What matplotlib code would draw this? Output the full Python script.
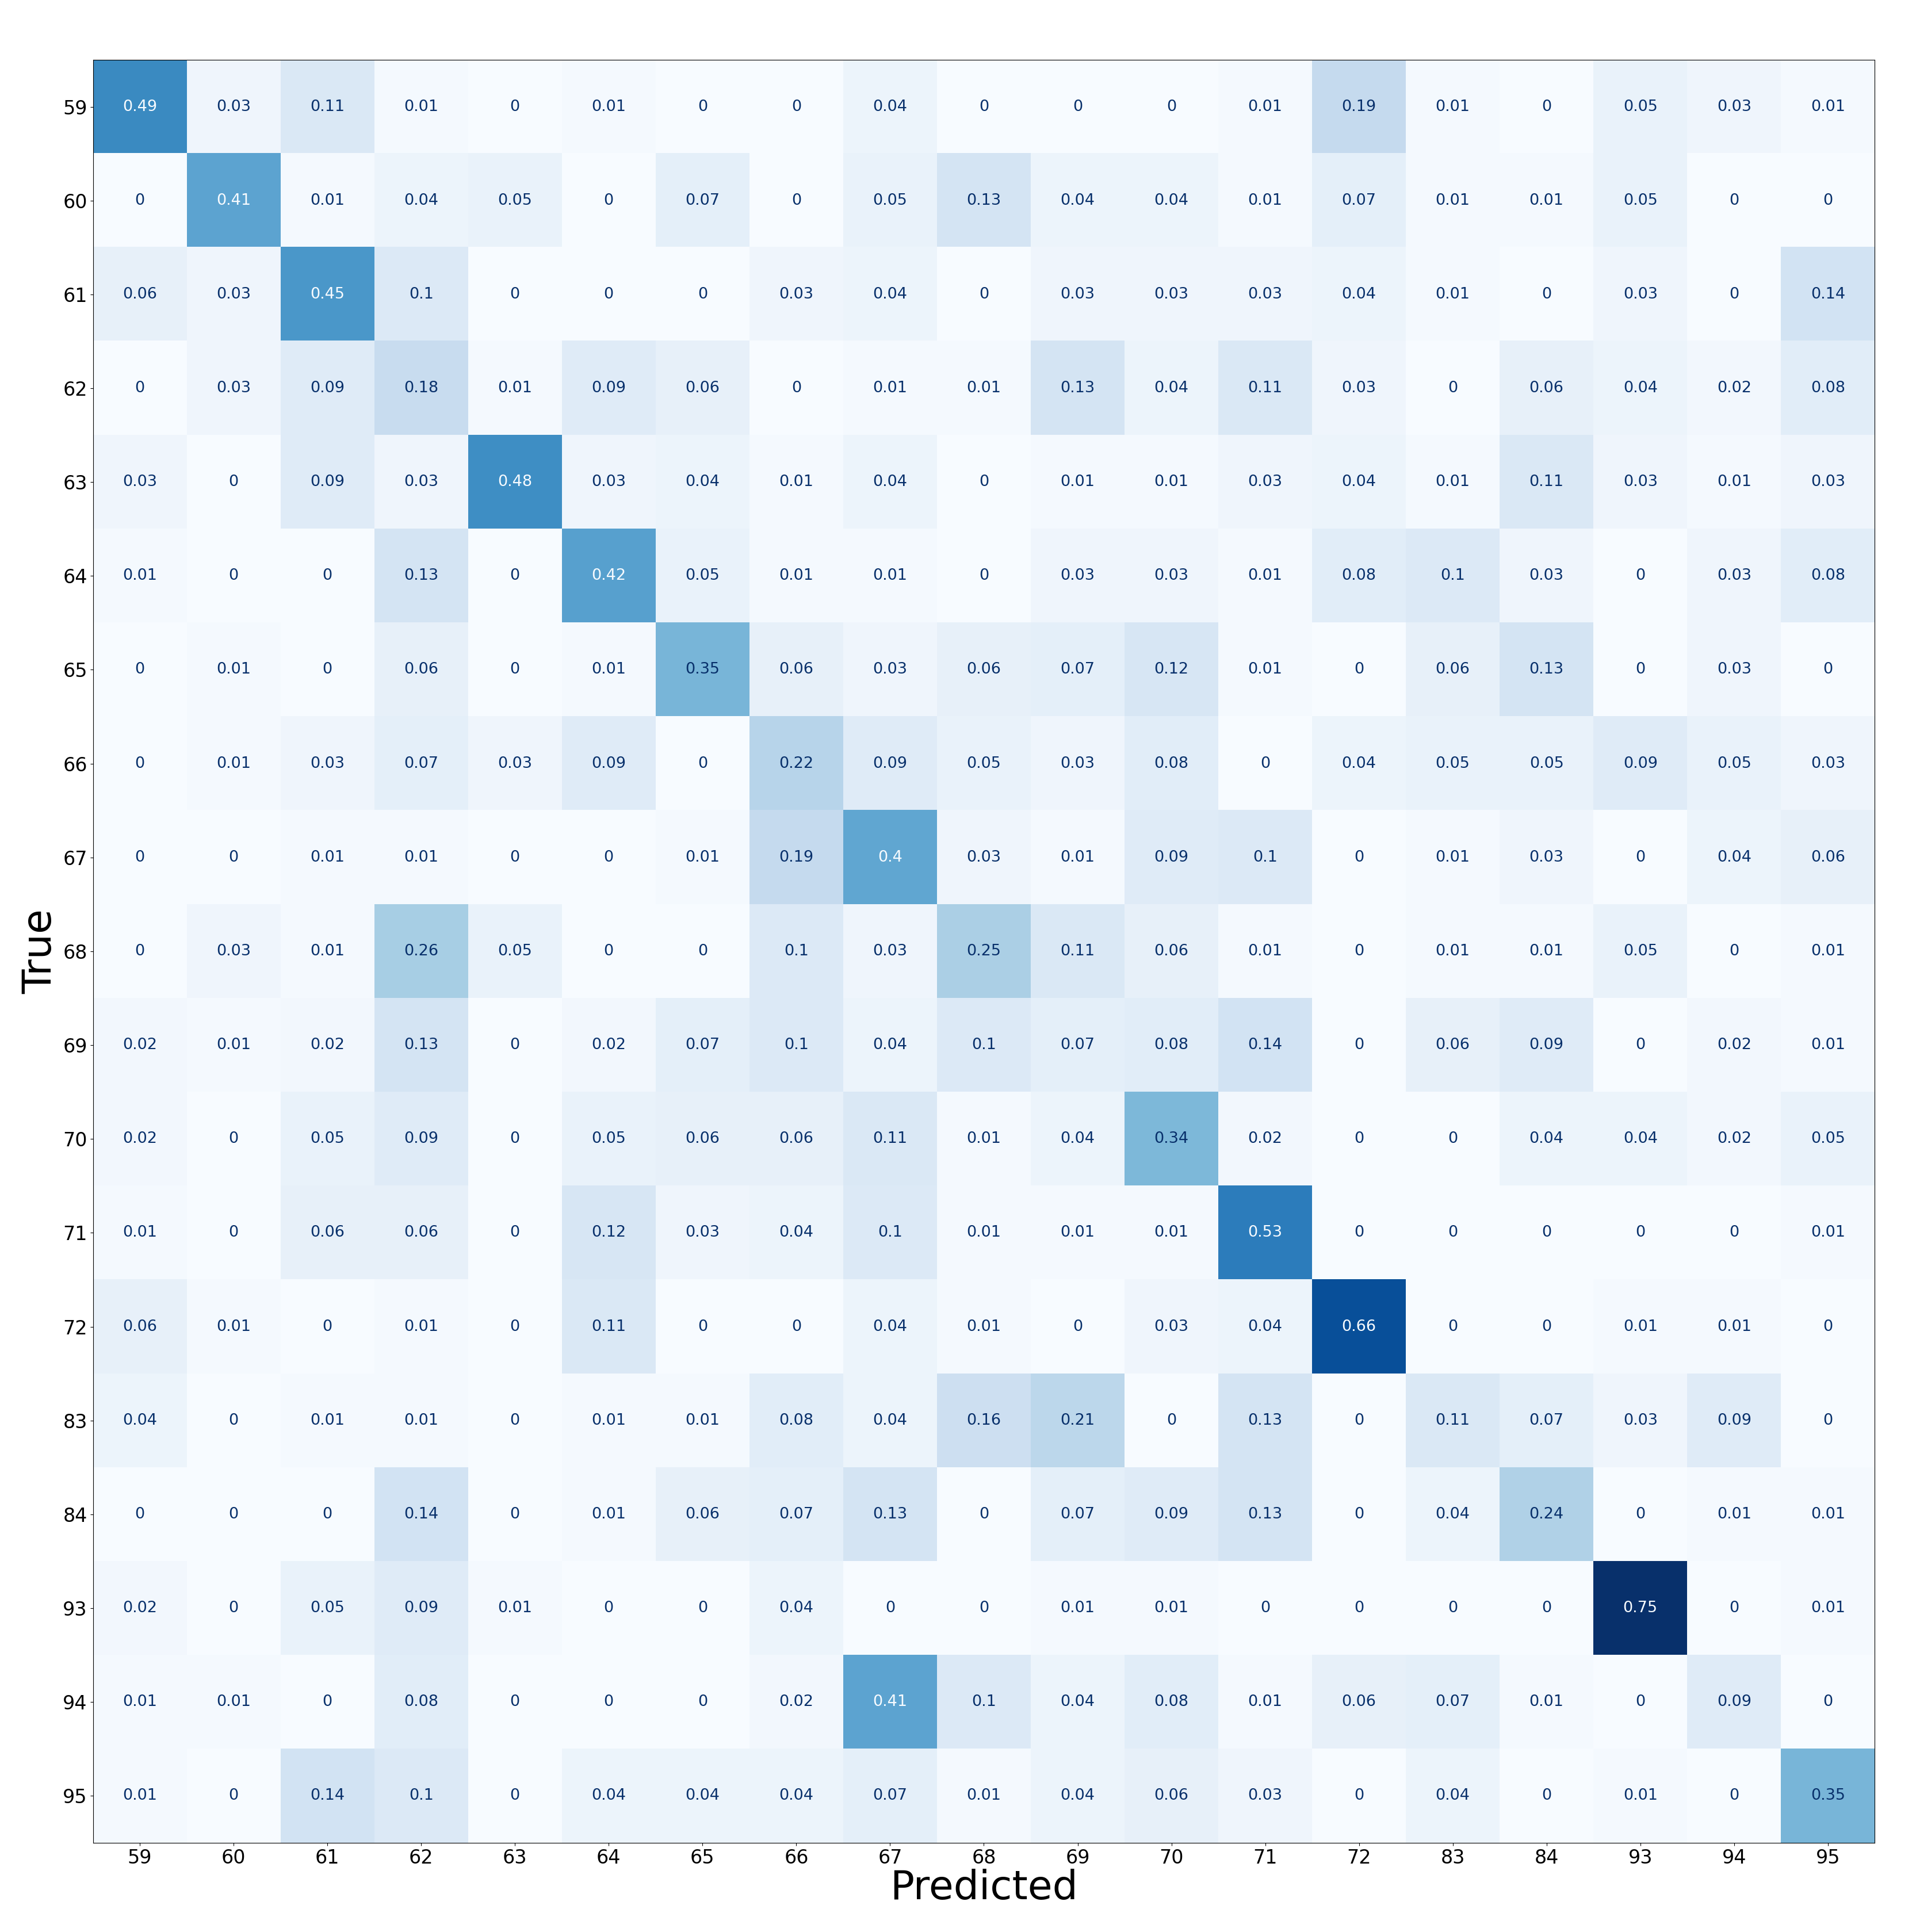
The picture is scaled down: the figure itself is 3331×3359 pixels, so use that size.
import numpy as np
import matplotlib
matplotlib.use("Agg")
import matplotlib.pyplot as plt

# clases (mismas para filas y columnas)
etiquetas = ['59', '60', '61', '62', '63', '64', '65', '66', '67', '68',
             '69', '70', '71', '72', '83', '84', '93', '94', '95']

# matriz de confusion normalizada por fila
fila_59 = [0.49, 0.03, 0.11, 0.01, 0, 0.01, 0, 0, 0.04, 0, 0, 0, 0.01, 0.19, 0.01, 0, 0.05, 0.03, 0.01]
fila_60 = [0, 0.41, 0.01, 0.04, 0.05, 0, 0.07, 0, 0.05, 0.13, 0.04, 0.04, 0.01, 0.07, 0.01, 0.01, 0.05, 0, 0]
fila_61 = [0.06, 0.03, 0.45, 0.1, 0, 0, 0, 0.03, 0.04, 0, 0.03, 0.03, 0.03, 0.04, 0.01, 0, 0.03, 0, 0.14]
fila_62 = [0, 0.03, 0.09, 0.18, 0.01, 0.09, 0.06, 0, 0.01, 0.01, 0.13, 0.04, 0.11, 0.03, 0, 0.06, 0.04, 0.02, 0.08]
fila_63 = [0.03, 0, 0.09, 0.03, 0.48, 0.03, 0.04, 0.01, 0.04, 0, 0.01, 0.01, 0.03, 0.04, 0.01, 0.11, 0.03, 0.01, 0.03]
fila_64 = [0.01, 0, 0, 0.13, 0, 0.42, 0.05, 0.01, 0.01, 0, 0.03, 0.03, 0.01, 0.08, 0.1, 0.03, 0, 0.03, 0.08]
fila_65 = [0, 0.01, 0, 0.06, 0, 0.01, 0.35, 0.06, 0.03, 0.06, 0.07, 0.12, 0.01, 0, 0.06, 0.13, 0, 0.03, 0]
fila_66 = [0, 0.01, 0.03, 0.07, 0.03, 0.09, 0, 0.22, 0.09, 0.05, 0.03, 0.08, 0, 0.04, 0.05, 0.05, 0.09, 0.05, 0.03]
fila_67 = [0, 0, 0.01, 0.01, 0, 0, 0.01, 0.19, 0.4, 0.03, 0.01, 0.09, 0.1, 0, 0.01, 0.03, 0, 0.04, 0.06]
fila_68 = [0, 0.03, 0.01, 0.26, 0.05, 0, 0, 0.1, 0.03, 0.25, 0.11, 0.06, 0.01, 0, 0.01, 0.01, 0.05, 0, 0.01]
fila_69 = [0.02, 0.01, 0.02, 0.13, 0, 0.02, 0.07, 0.1, 0.04, 0.1, 0.07, 0.08, 0.14, 0, 0.06, 0.09, 0, 0.02, 0.01]
fila_70 = [0.02, 0, 0.05, 0.09, 0, 0.05, 0.06, 0.06, 0.11, 0.01, 0.04, 0.34, 0.02, 0, 0, 0.04, 0.04, 0.02, 0.05]
fila_71 = [0.01, 0, 0.06, 0.06, 0, 0.12, 0.03, 0.04, 0.1, 0.01, 0.01, 0.01, 0.53, 0, 0, 0, 0, 0, 0.01]
fila_72 = [0.06, 0.01, 0, 0.01, 0, 0.11, 0, 0, 0.04, 0.01, 0, 0.03, 0.04, 0.66, 0, 0, 0.01, 0.01, 0]
fila_83 = [0.04, 0, 0.01, 0.01, 0, 0.01, 0.01, 0.08, 0.04, 0.16, 0.21, 0, 0.13, 0, 0.11, 0.07, 0.03, 0.09, 0]
fila_84 = [0, 0, 0, 0.14, 0, 0.01, 0.06, 0.07, 0.13, 0, 0.07, 0.09, 0.13, 0, 0.04, 0.24, 0, 0.01, 0.01]
fila_93 = [0.02, 0, 0.05, 0.09, 0.01, 0, 0, 0.04, 0, 0, 0.01, 0.01, 0, 0, 0, 0, 0.75, 0, 0.01]
fila_94 = [0.01, 0.01, 0, 0.08, 0, 0, 0, 0.02, 0.41, 0.1, 0.04, 0.08, 0.01, 0.06, 0.07, 0.01, 0, 0.09, 0]
fila_95 = [0.01, 0, 0.14, 0.1, 0, 0.04, 0.04, 0.04, 0.07, 0.01, 0.04, 0.06, 0.03, 0, 0.04, 0, 0.01, 0, 0.35]

cm = np.array([fila_59, fila_60, fila_61, fila_62, fila_63, fila_64, fila_65,
               fila_66, fila_67, fila_68, fila_69, fila_70, fila_71, fila_72,
               fila_83, fila_84, fila_93, fila_94, fila_95])

fig = plt.figure(figsize=(33.31, 33.59), dpi=100)
ax = fig.add_axes([0.0485, 0.04615, 0.930, 0.9229])

cmap = plt.get_cmap('Blues')
ax.imshow(cm, cmap=cmap, interpolation='nearest', aspect='auto')

# color del texto como en ConfusionMatrixDisplay
umbral = (cm.max() + cm.min()) / 2.0
n = len(etiquetas)
for i in range(n):
    for j in range(n):
        v = cm[i, j]
        color = cmap(0) if v > umbral else cmap(256)
        ax.text(j, i, f'{v:g}', ha='center', va='center', color=color, fontsize=19.5)

ax.set_xticks(range(n))
ax.set_yticks(range(n))
ax.set_xticklabels(etiquetas, fontsize=24)
ax.set_yticklabels(etiquetas, fontsize=24)
ax.set_xlabel('Predicted', fontsize=50, labelpad=2)
ax.set_ylabel('True', fontsize=50, labelpad=4)

fig.savefig('out.png', dpi=100)
